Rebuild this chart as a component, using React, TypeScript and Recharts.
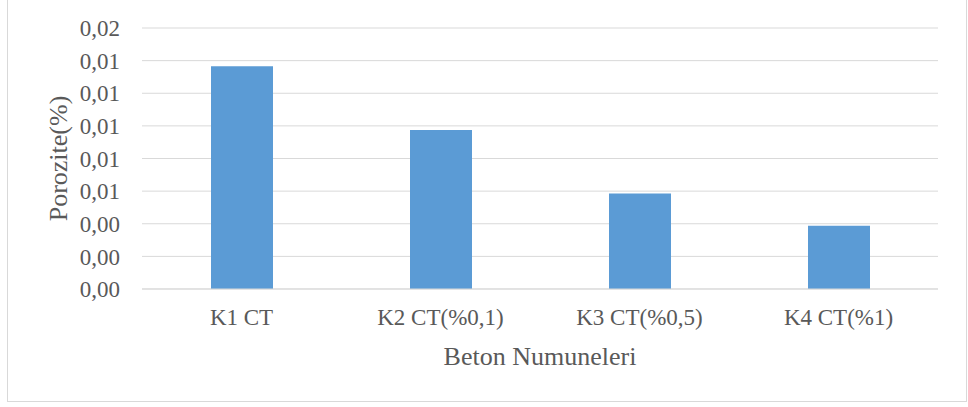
import { BarChart, Bar, XAxis, YAxis, CartesianGrid, Label } from "recharts";

const samples = ["K1 CT", "K2 CT(%0,1)", "K3 CT(%0,5)", "K4 CT(%1)"];
const porosity = [0.01366, 0.00975, 0.00585, 0.00388];
const yTicks = [0, 0.002, 0.004, 0.006, 0.008, 0.01, 0.012, 0.014, 0.016];

const data = samples.map((name, i) => ({ name, porozite: porosity[i] }));

const font = "'Liberation Serif', 'Times New Roman', serif";
const textColor = "#595959";

export default function App() {
  return (
    <div style={{ position: "absolute", left: 0, top: 0, width: 968, height: 407, background: "#fff" }}>
      <div
        style={{
          position: "absolute",
          left: 7,
          top: -1,
          width: 958,
          height: 401,
          border: "1px solid #d9d9d9",
          boxSizing: "content-box",
        }}
      />
      <div style={{ position: "absolute", left: 0, top: 0 }}>
        <BarChart
          width={968}
          height={407}
          data={data}
          margin={{ top: 28, right: 30, left: 0, bottom: 0 }}
          barSize={62}
        >
          <CartesianGrid vertical={false} stroke="#d9d9d9" strokeWidth={1} />
          <XAxis
            dataKey="name"
            height={118}
            axisLine={{ stroke: "#d9d9d9", strokeWidth: 1 }}
            tickLine={false}
            tickSize={0}
            tickMargin={20}
            interval={0}
            tick={{ fontSize: 23, fill: textColor, fontFamily: font }}
          >
            <Label
              content={({ viewBox }: any) => (
                <text
                  x={viewBox.x + viewBox.width / 2}
                  y={viewBox.y + 76}
                  textAnchor="middle"
                  fontSize={26}
                  fill={textColor}
                  fontFamily={font}
                >
                  Beton Numuneleri
                </text>
              )}
            />
          </XAxis>
          <YAxis
            width={142}
            domain={[0, 0.016]}
            ticks={yTicks}
            axisLine={false}
            tickLine={false}
            tickSize={0}
            tickMargin={22}
            tick={{ fontSize: 23, fill: textColor, fontFamily: font }}
            tickFormatter={(v: number) => v.toFixed(2).replace(".", ",")}
          >
            <Label
              content={({ viewBox }: any) => {
                const cx = 58;
                const cy = viewBox.y + viewBox.height / 2;
                return (
                  <text
                    x={cx}
                    y={cy}
                    transform={`rotate(-90, ${cx}, ${cy})`}
                    textAnchor="middle"
                    dominantBaseline="central"
                    fontSize={26}
                    fill={textColor}
                    fontFamily={font}
                  >
                    Porozite(%)
                  </text>
                );
              }}
            />
          </YAxis>
          <Bar dataKey="porozite" fill="#5b9bd5" isAnimationActive={false} />
        </BarChart>
      </div>
    </div>
  );
}
